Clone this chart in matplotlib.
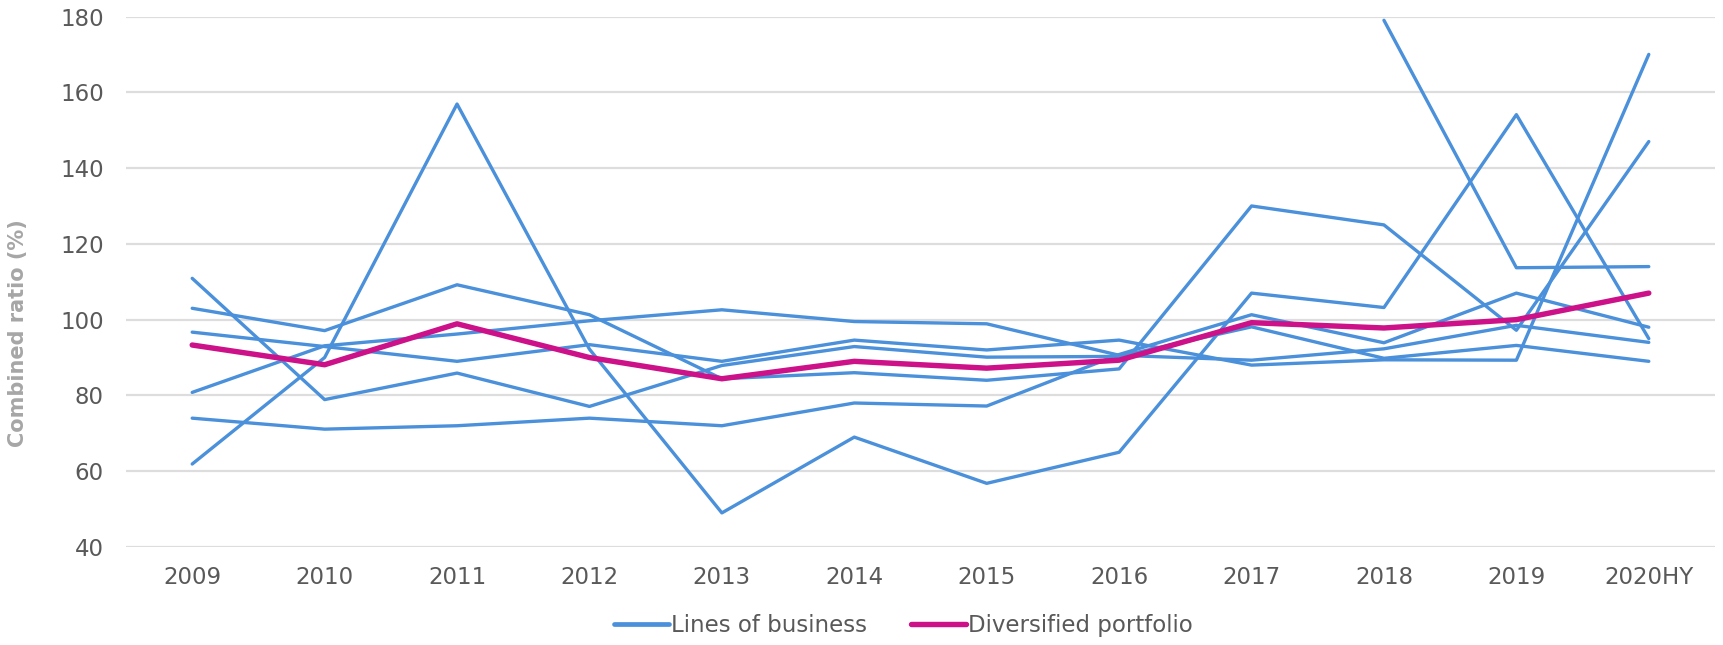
import numpy as np
import matplotlib
matplotlib.use('Agg')
import matplotlib.pyplot as plt
from matplotlib.lines import Line2D

# ── data ─────────────────────────────────────────────
years = ['2009', '2010', '2011', '2012', '2013', '2014', '2015', '2016',
         '2017', '2018', '2019', '2020HY']

nan = np.nan
# combined ratio of the individual lines of business (%)
lob_a = [110.9, 78.9, 85.9, 77.1, 87.9, 92.9, 90.1, 90.3, 98.1, 89.8, 93.2, 89.0]
lob_b = [103.0, 97.1, 109.2, 101.3, 84.4, 86.0, 84.0, 87.0, 130.0, 125.0, 97.2, 147.0]
lob_c = [96.7, 92.9, 89.0, 93.4, 89.0, 94.6, 92.0, 94.6, 88.0, 89.4, 89.3, 170.0]
lob_d = [80.8, 93.1, 96.2, 99.7, 102.6, 99.5, 98.9, 90.6, 89.3, 92.3, 98.5, 94.0]
lob_e = [74.0, 71.1, 72.0, 74.0, 72.0, 78.0, 77.2, 90.8, 101.3, 93.9, 107.0, 98.0]
lob_f = [61.9, 90.0, 156.9, 92.2, 49.0, 69.0, 56.8, 65.0, 107.0, 103.2, 154.1, 95.0]
lob_g = [nan, nan, nan, nan, nan, nan, nan, nan, nan, 179.0, 113.7, 114.0]
lines_of_business = [lob_a, lob_b, lob_c, lob_d, lob_e, lob_f, lob_g]

diversified = [93.3, 88.1, 98.9, 90.0, 84.4, 89.0, 87.2, 89.3, 99.2, 97.8, 100.0, 107.0]

BLUE = '#4A90DA'
MAGENTA = '#CC1189'
GRID = '#DDDDDD'
TXT = '#595959'

# ── figure ───────────────────────────────────────────
fig = plt.figure(figsize=(17.24, 6.45), dpi=100)
ax = fig.add_axes([126 / 1724, 1 - 547 / 645, (1715 - 126) / 1724, (547 - 16.5) / 645])

x = np.arange(len(years))
for vals in lines_of_business:
    ax.plot(x, vals, color=BLUE, lw=2.4, solid_capstyle='round',
            solid_joinstyle='round', zorder=3)
ax.plot(x, diversified, color=MAGENTA, lw=3.9, solid_capstyle='round',
        solid_joinstyle='round', zorder=4)

ax.set_xlim(-0.5, len(years) - 0.5)
ax.set_ylim(40, 180)
ax.set_yticks(range(40, 181, 20))
ax.set_xticks(x)
ax.set_xticklabels(years)
ax.tick_params(axis='both', length=0, labelsize=16.5, labelcolor=TXT)
ax.tick_params(axis='y', pad=16)
ax.tick_params(axis='x', pad=14)
ax.grid(axis='y', color=GRID, lw=1.6, zorder=0)
for s in ax.spines.values():
    s.set_visible(False)

fig.text(0.0105, 0.484, 'Combined ratio (%)', rotation=90, ha='center', va='center',
         fontsize=15, fontweight='bold', color='#A6A6A6')

handles = [Line2D([], [], color=BLUE, lw=3.4, solid_capstyle='round'),
           Line2D([], [], color=MAGENTA, lw=3.9, solid_capstyle='round')]
fig.legend(handles, ['Lines of business', 'Diversified portfolio'],
           loc='center', bbox_to_anchor=(0.524, 0.03), ncol=2, frameon=False,
           fontsize=16.5, labelcolor=TXT, handlelength=2.4, handletextpad=0.1,
           columnspacing=1.9)

fig.savefig('out.png', dpi=100, facecolor='white')
